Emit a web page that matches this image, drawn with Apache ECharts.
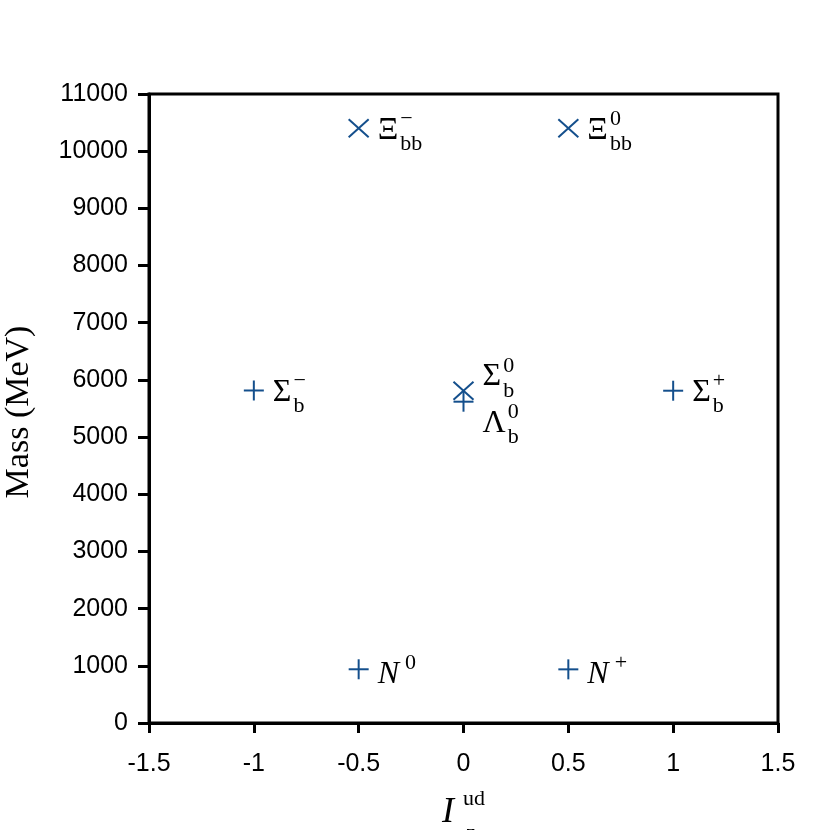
<!DOCTYPE html>
<html>
<head>
<meta charset="utf-8">
<script src="https://cdn.jsdelivr.net/npm/echarts@6/dist/echarts.min.js"></script>
<style>html,body{margin:0;padding:0;background:#fff}#c{width:830px;height:830px}</style>
</head>
<body>
<div id="c"></div>
<script>
// ---- data ----
const isospin = [-0.5, 0.5, -1, 0, 1, 0, -0.5, 0.5];
const mass = [10400, 10400, 5815, 5810, 5811, 5619, 939.6, 938.3];
const markerKind = ['x', 'x', '+', 'x', '+', '+', '+', '+'];
const labelMain = ['Ξ', 'Ξ', 'Σ', 'Σ', 'Σ', 'Λ', 'N', 'N'];
const labelSub = ['bb', 'bb', 'b', 'b', 'b', 'b', '', ''];
const labelSup = ['−', '0', '−', '0', '+', '0', '0', '+'];
const labelItalic = [false, false, false, false, false, false, true, true];
const labelPlace = ['right', 'right', 'right', 'above', 'right', 'below', 'right', 'right'];
const xTicks = [-1.5, -1, -0.5, 0, 0.5, 1, 1.5];
const yMin = 0, yMax = 11000, yStep = 1000;

const COLOR = '#144f8c';
const SERIF = '"Liberation Serif","Times New Roman",serif';
const SANS = '"Liberation Sans",Arial,sans-serif';
const MAIN_FS = 32, SMALL_FS = 22;

const ctx = document.createElement('canvas').getContext('2d');
function textW(t, font) { ctx.font = font; return ctx.measureText(t).width; }

const chart = echarts.init(document.getElementById('c'), null, {renderer: 'canvas'});

function renderItem(params, api) {
  const i = params.dataIndex;
  const p = api.coord([api.value(0), api.value(1)]);
  const px = p[0], py = p[1];
  const children = [];
  const lw = 2;
  if (markerKind[i] === '+') {
    children.push({type: 'line', shape: {x1: px - 10, y1: py, x2: px + 10, y2: py}, style: {stroke: COLOR, lineWidth: lw}});
    children.push({type: 'line', shape: {x1: px, y1: py - 10, x2: px, y2: py + 10}, style: {stroke: COLOR, lineWidth: lw}});
  } else {
    children.push({type: 'line', shape: {x1: px - 10, y1: py - 9, x2: px + 10, y2: py + 9}, style: {stroke: COLOR, lineWidth: lw}});
    children.push({type: 'line', shape: {x1: px - 10, y1: py + 9, x2: px + 10, y2: py - 9}, style: {stroke: COLOR, lineWidth: lw}});
  }
  let dy = labelItalic[i] ? 5 : 2;
  if (labelPlace[i] === 'above') dy = -14;
  if (labelPlace[i] === 'below') dy = 22;
  const mainFont = (labelItalic[i] ? 'italic ' : '') + MAIN_FS + 'px ' + SERIF;
  const smallFont = SMALL_FS + 'px ' + SERIF;
  const mx = px + 19, my = py + dy;
  children.push({type: 'text', style: {text: labelMain[i], x: mx, y: my, font: mainFont, fill: '#000', align: 'left', verticalAlign: 'middle'}});
  const sx = mx + textW(labelMain[i], mainFont) + (labelItalic[i] ? 6 : 2);
  if (labelSub[i]) {
    children.push({type: 'text', style: {text: labelSub[i], x: sx, y: my + 14, font: smallFont, fill: '#000', align: 'left', verticalAlign: 'middle'}});
  }
  if (labelSup[i]) {
    children.push({type: 'text', style: {text: labelSup[i], x: sx, y: my - 11, font: smallFont, fill: '#000', align: 'left', verticalAlign: 'middle'}});
  }
  return {type: 'group', children: children};
}

const option = {
  backgroundColor: '#fff',
  animation: false,
  grid: {left: 149, right: 52, top: 94, bottom: 107, show: true, borderColor: '#000', borderWidth: 3, backgroundColor: 'transparent'},
  xAxis: {
    type: 'value', min: xTicks[0], max: xTicks[xTicks.length - 1], interval: 0.5,
    axisLine: {show: true, onZero: false, lineStyle: {color: '#000', width: 3}},
    axisTick: {show: true, inside: false, length: 10, lineStyle: {color: '#000', width: 3}},
    axisLabel: {show: true, color: '#000', fontFamily: SANS, fontSize: 25, margin: 29, formatter: v => String(v)},
    splitLine: {show: false}
  },
  yAxis: {
    type: 'value', min: yMin, max: yMax, interval: yStep,
    axisLine: {show: true, onZero: false, lineStyle: {color: '#000', width: 3}},
    axisTick: {show: true, inside: false, length: 11, lineStyle: {color: '#000', width: 3}},
    axisLabel: {show: true, color: '#000', fontFamily: SANS, fontSize: 25, margin: 21, formatter: v => String(v)},
    splitLine: {show: false}
  },
  graphic: [
    {type: 'text', x: 19, y: 412, rotation: Math.PI / 2,
     style: {text: 'Mass (MeV)', font: '34px ' + SERIF, fill: '#000', align: 'center', verticalAlign: 'middle'}},
    {type: 'text', x: 442, y: 813,
     style: {text: 'I', font: 'italic 36px ' + SERIF, fill: '#000', align: 'left', verticalAlign: 'middle'}},
    {type: 'text', x: 463, y: 799,
     style: {text: 'ud', font: '22px ' + SERIF, fill: '#000', align: 'left', verticalAlign: 'middle'}},
    {type: 'text', x: 466, y: 833,
     style: {text: 'z', font: '22px ' + SERIF, fill: '#000', align: 'left', verticalAlign: 'middle'}}
  ],
  series: [{
    type: 'custom',
    renderItem: renderItem,
    clip: false,
    data: isospin.map((x, i) => [x, mass[i]])
  }]
};
chart.setOption(option);
</script>
</body>
</html>
